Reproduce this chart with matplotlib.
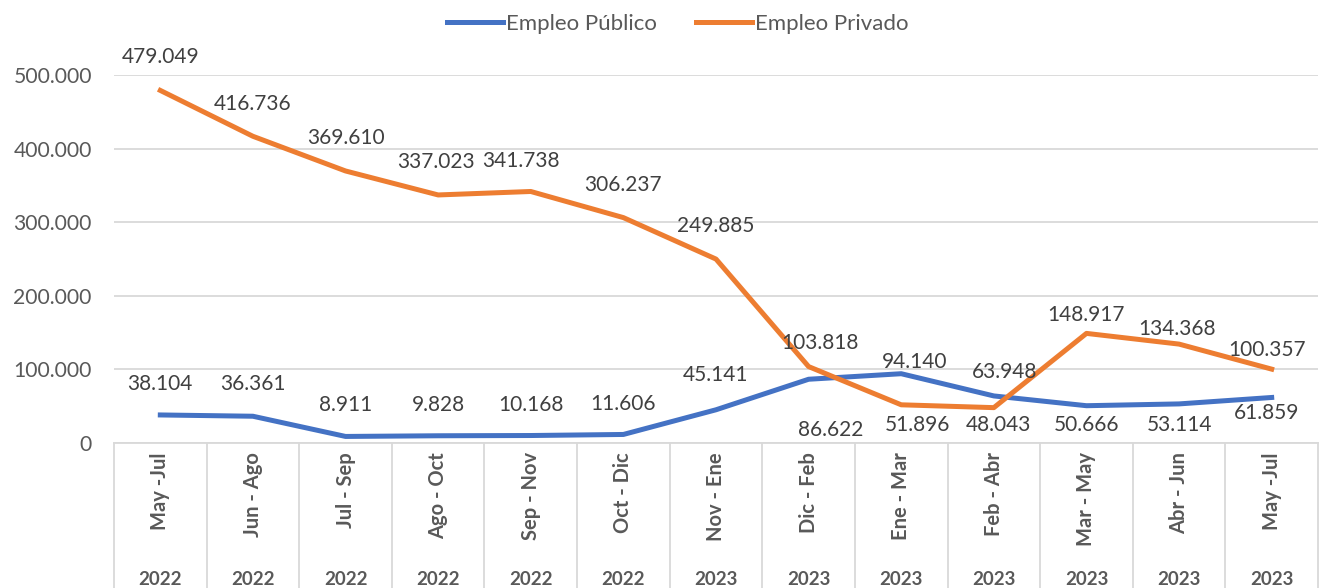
import matplotlib.pyplot as plt
import matplotlib.transforms as mtransforms
from matplotlib.ticker import FuncFormatter

plt.rcParams['font.family'] = ['Lato', 'DejaVu Sans']

periods = ['May -Jul', 'Jun - Ago', 'Jul - Sep', 'Ago - Oct', 'Sep - Nov', 'Oct - Dic',
           'Nov - Ene', 'Dic - Feb', 'Ene - Mar', 'Feb - Abr', 'Mar - May', 'Abr - Jun', 'May -Jul']
years = ['2022'] * 6 + ['2023'] * 7

publico = [38104, 36361, 8911, 9828, 10168, 11606, 45141, 86622, 94140, 63948, 50666, 53114, 61859]
privado = [479049, 416736, 369610, 337023, 341738, 306237, 249885, 103818, 51896, 48043, 148917, 134368, 100357]

# label offsets in pixels (dx, dy), as placed in the original
pub_off = [(0, 31), (0, 32), (0, 31), (0, 31), (0, 31), (0, 30), (0, 35), (22, -51),
           (13, 12), (11, 24), (0, -19), (0, -21), (-5, -16)]
priv_off = [(0, 33), (0, 32), (0, 33), (-2, 33), (-10, 30), (0, 33), (0, 33), (11, 24),
            (16, -20), (5, -17), (0, 18), (-2, 15), (-5, 19)]

BLUE = '#4472C4'
ORANGE = '#ED7D31'
TXT = '#404040'
GRID = '#D9D9D9'


def fmt(v):
    return f'{v:,.0f}'.replace(',', '.')


fig = plt.figure(figsize=(13.19, 5.88), dpi=100)
ax = fig.add_axes([114 / 1319, 1 - 443 / 588, 1204 / 1319, 368 / 588])

x = list(range(len(periods)))
ax.plot(x, publico, color=BLUE, lw=3.6, solid_joinstyle='round', label='Empleo Público')
ax.plot(x, privado, color=ORANGE, lw=3.6, solid_joinstyle='round', label='Empleo Privado')

for xi, v, (dx, dy) in zip(x, publico, pub_off):
    ax.annotate(fmt(v), (xi, v), xytext=(dx, dy), textcoords='offset pixels',
                ha='center', va='center', fontsize=15, color=TXT)
for xi, v, (dx, dy) in zip(x, privado, priv_off):
    ax.annotate(fmt(v), (xi, v), xytext=(dx, dy), textcoords='offset pixels',
                ha='center', va='center', fontsize=15, color=TXT)

ax.set_xlim(-0.5, len(periods) - 0.5)
ax.set_ylim(0, 500000)
ax.set_yticks(range(0, 500001, 100000))
ax.yaxis.set_major_formatter(FuncFormatter(lambda v, p: fmt(v)))
ax.tick_params(axis='y', length=0, labelsize=15.2, labelcolor='#595959', pad=16)
ax.tick_params(axis='x', length=0, labelbottom=False)
ax.grid(axis='y', color=GRID, lw=1.3)
ax.set_axisbelow(True)
for s in ['top', 'right', 'left']:
    ax.spines[s].set_visible(False)
ax.spines['bottom'].set_color(GRID)
ax.spines['bottom'].set_linewidth(1.3)

# multi-level category axis
trans = mtransforms.blended_transform_factory(ax.transData, ax.transAxes)
for b in range(len(periods) + 1):
    ax.plot([b - 0.5, b - 0.5], [0, -0.4], transform=trans, color=GRID, lw=1.3, clip_on=False)
for xi, (p, yr) in enumerate(zip(periods, years)):
    ax.text(xi, -0.025, p, transform=trans, rotation=90, ha='center', va='top',
            fontsize=14.5, fontweight='bold', color='#595959')
    ax.text(xi, -0.37, yr, transform=trans, ha='center', va='center',
            fontsize=13.5, fontweight='bold', color='#595959')

fig.legend(loc='upper center', bbox_to_anchor=(0.514, 1.01), ncol=2, frameon=False,
           fontsize=16, handlelength=2.5, columnspacing=1.75, handletextpad=0.15,
           labelcolor='#595959')

fig.savefig('out.png', dpi=100)
